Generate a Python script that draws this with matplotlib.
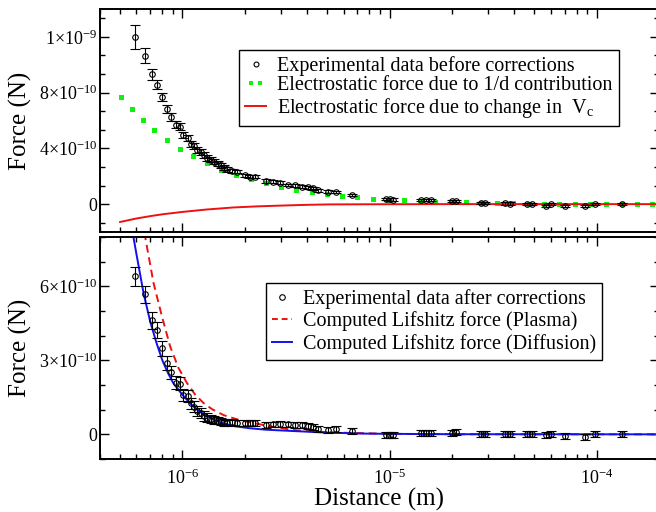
import matplotlib
matplotlib.use("Agg")
import matplotlib.pyplot as plt
from matplotlib.lines import Line2D
from matplotlib.legend_handler import HandlerLine2D
from matplotlib.ticker import FixedLocator, FixedFormatter, MultipleLocator, NullFormatter

plt.rcParams["font.family"] = ["Liberation Serif", "DejaVu Serif"]
plt.rcParams["mathtext.fontset"] = "custom"
plt.rcParams["mathtext.rm"] = "Liberation Serif"
plt.rcParams["mathtext.it"] = "Liberation Serif:italic"
plt.rcParams["mathtext.bf"] = "Liberation Serif:bold"
plt.rcParams["mathtext.default"] = "regular"

# distance of the measured points (m), same for both panels
distance = [5.93e-7, 6.63e-7, 7.14e-7, 7.55e-7, 8.01e-7, 8.45e-7, 8.85e-7, 9.29e-7,
            9.72e-7, 1.01e-6, 1.06e-6, 1.10e-6, 1.14e-6, 1.18e-6, 1.23e-6, 1.27e-6,
            1.32e-6, 1.37e-6, 1.42e-6, 1.48e-6, 1.53e-6, 1.59e-6, 1.65e-6, 1.73e-6,
            1.84e-6, 2.00e-6, 2.12e-6, 2.24e-6, 2.52e-6, 2.74e-6, 2.96e-6, 3.24e-6,
            3.49e-6, 3.76e-6, 4.05e-6, 4.28e-6, 4.52e-6, 5.06e-6, 5.54e-6, 6.60e-6,
            9.60e-6, 1.00e-5, 1.04e-5, 1.42e-5, 1.50e-5, 1.58e-5, 2.00e-5, 2.10e-5,
            2.75e-5, 2.90e-5, 3.60e-5, 3.80e-5, 4.60e-5, 4.90e-5, 5.70e-5, 6.00e-5,
            7.00e-5, 8.80e-5, 9.80e-5, 1.33e-4]

# top panel: data before corrections (N)
force_before = [1.196e-9, 1.063e-9, 9.31e-10, 8.58e-10, 7.67e-10, 6.85e-10, 6.24e-10, 5.71e-10,
                5.55e-10, 4.95e-10, 4.72e-10, 4.30e-10, 4.15e-10, 3.90e-10, 3.74e-10, 3.52e-10,
                3.32e-10, 3.18e-10, 3.05e-10, 2.90e-10, 2.78e-10, 2.62e-10, 2.50e-10, 2.40e-10,
                2.34e-10, 2.07e-10, 1.98e-10, 1.98e-10, 1.66e-10, 1.59e-10, 1.54e-10, 1.37e-10,
                1.35e-10, 1.25e-10, 1.21e-10, 1.13e-10, 0.99e-10, 0.89e-10, 0.86e-10, 0.65e-10,
                0.36e-10, 0.34e-10, 0.33e-10, 0.30e-10, 0.28e-10, 0.28e-10, 0.22e-10, 0.22e-10,
                0.10e-10, 0.10e-10, 0.05e-10, 0.04e-10, 0.02e-10, 0.02e-10, -0.12e-10, 0.0,
                -0.12e-10, -0.14e-10, 0.0, 0.0]
err_before = [8.6e-11, 5.4e-11, 4.1e-11, 3.5e-11, 2.9e-11, 2.9e-11, 3.0e-11, 2.6e-11,
              2.4e-11, 2.2e-11, 2.2e-11, 2.1e-11, 2.0e-11, 2.0e-11, 2.0e-11, 1.9e-11,
              1.9e-11, 1.8e-11, 1.8e-11, 1.7e-11, 1.7e-11, 1.6e-11, 1.6e-11, 1.5e-11,
              1.4e-11, 1.2e-11, 1.2e-11, 1.2e-11, 1.1e-11, 1.1e-11, 1.0e-11, 1.0e-11,
              1.0e-11, 1.0e-11, 1.0e-11, 0.9e-11, 0.9e-11, 0.9e-11, 0.9e-11, 0.9e-11,
              0.8e-11, 0.8e-11, 0.8e-11, 0.8e-11, 0.8e-11, 0.8e-11, 0.8e-11, 0.8e-11,
              0.8e-11, 0.8e-11, 0.8e-11, 0.8e-11, 0.8e-11, 0.8e-11, 0.8e-11, 0.8e-11,
              0.8e-11, 0.8e-11, 0.8e-11, 0.8e-11]

# 1/d electrostatic contribution (green squares)
d_inv = [5.07e-7, 5.70e-7, 6.44e-7, 7.30e-7, 8.41e-7, 9.75e-7, 1.12e-6, 1.31e-6,
         1.54e-6, 1.815e-6, 2.14e-6, 2.52e-6, 2.98e-6, 3.53e-6, 4.20e-6, 4.97e-6,
         5.90e-6, 7.00e-6, 8.33e-6, 9.95e-6, 1.18e-5, 1.40e-5, 1.66e-5, 1.97e-5,
         2.35e-5, 2.80e-5, 3.31e-5, 3.94e-5, 4.69e-5, 5.60e-5, 6.61e-5, 7.89e-5,
         9.33e-5, 1.11e-4, 1.32e-4, 1.56e-4, 1.85e-4]
f_inv = [7.69e-10, 6.85e-10, 6.03e-10, 5.30e-10, 4.63e-10, 3.98e-10, 3.42e-10, 2.94e-10,
         2.48e-10, 2.12e-10, 1.78e-10, 1.52e-10, 1.25e-10, 1.03e-10, 0.87e-10, 0.72e-10,
         0.60e-10, 0.48e-10, 0.38e-10, 0.31e-10, 0.27e-10, 0.24e-10, 0.17e-10, 0.17e-10,
         0.12e-10, 0.10e-10, 0.07e-10, 0.05e-10, 0.02e-10, 0.02e-10, 0.0, 0.0,
         0.0, 0.0, 0.0, 0.0, 0.0]

# electrostatic force from change in Vc (red line)
d_vc = [5.0e-7, 6.0e-7, 7.0e-7, 8.0e-7, 9.0e-7, 1.0e-6, 1.3e-6, 1.76e-6, 2.3e-6,
        3.07e-6, 4.0e-6, 5.15e-6, 8.0e-6, 2.0e-5, 2.0e-4]
f_vc = [-1.28e-10, -1.03e-10, -0.86e-10, -0.73e-10, -0.64e-10, -0.56e-10, -0.39e-10,
        -0.24e-10, -0.16e-10, -0.10e-10, -0.05e-10, -0.02e-10, -0.01e-10, 0.0, 0.0]

# bottom panel: data after corrections (N)
force_after = [6.41e-10, 5.67e-10, 4.63e-10, 4.22e-10, 3.48e-10, 2.90e-10, 2.52e-10, 2.09e-10,
               2.06e-10, 1.59e-10, 1.55e-10, 1.26e-10, 1.12e-10, 0.94e-10, 0.85e-10, 0.74e-10,
               0.67e-10, 0.63e-10, 0.58e-10, 0.55e-10, 0.51e-10, 0.49e-10, 0.46e-10, 0.50e-10,
               0.45e-10, 0.47e-10, 0.47e-10, 0.47e-10, 0.36e-10, 0.40e-10, 0.42e-10, 0.40e-10,
               0.39e-10, 0.36e-10, 0.34e-10, 0.30e-10, 0.23e-10, 0.17e-10, 0.23e-10, 0.13e-10,
               -0.03e-10, -0.03e-10, -0.02e-10, 0.07e-10, 0.07e-10, 0.07e-10, 0.07e-10, 0.08e-10,
               0.01e-10, 0.01e-10, 0.0, 0.0, 0.0, 0.0, -0.04e-10, 0.01e-10,
               -0.07e-10, -0.09e-10, 0.0, 0.0]
err_after = [3.8e-11, 3.4e-11, 3.4e-11, 3.2e-11, 2.9e-11, 2.8e-11, 2.7e-11, 2.6e-11,
             2.6e-11, 2.5e-11, 2.4e-11, 2.3e-11, 2.2e-11, 2.1e-11, 2.0e-11, 1.9e-11,
             1.8e-11, 1.7e-11, 1.6e-11, 1.5e-11, 1.5e-11, 1.4e-11, 1.4e-11, 1.3e-11,
             1.3e-11, 1.2e-11, 1.2e-11, 1.2e-11, 1.2e-11, 1.2e-11, 1.2e-11, 1.2e-11,
             1.2e-11, 1.2e-11, 1.2e-11, 1.2e-11, 1.2e-11, 1.2e-11, 1.2e-11, 1.2e-11,
             1.2e-11, 1.2e-11, 1.2e-11, 1.2e-11, 1.2e-11, 1.2e-11, 1.2e-11, 1.2e-11,
             1.2e-11, 1.2e-11, 1.2e-11, 1.2e-11, 1.2e-11, 1.2e-11, 1.2e-11, 1.2e-11,
             1.2e-11, 1.2e-11, 1.2e-11, 1.2e-11]

# computed Lifshitz force, plasma model (red dashed)
d_plasma = [6.3e-7, 6.61e-7, 7.25e-7, 7.96e-7, 8.72e-7, 9.56e-7, 1.05e-6, 1.15e-6,
            1.26e-6, 1.39e-6, 1.58e-6, 1.83e-6, 2.08e-6, 2.74e-6, 3.56e-6, 5.0e-6,
            1.0e-5, 2.0e-5, 2.0e-4]
f_plasma = [9.2e-10, 8.0e-10, 6.14e-10, 4.79e-10, 3.57e-10, 2.70e-10, 2.09e-10, 1.62e-10,
            1.28e-10, 1.02e-10, 0.78e-10, 0.61e-10, 0.50e-10, 0.30e-10, 0.16e-10, 0.08e-10,
            0.02e-10, 0.005e-10, 0.0]

# computed Lifshitz force, diffusion model (blue)
d_diff = [5.6e-7, 5.8e-7, 6.0e-7, 6.5e-7, 7.0e-7, 7.5e-7, 8.0e-7, 8.5e-7, 9.0e-7,
          1.0e-6, 1.1e-6, 1.2e-6, 1.3e-6, 1.5e-6, 1.75e-6, 2.1e-6, 2.5e-6, 3.5e-6,
          5.0e-6, 7.5e-6, 1.0e-5, 2.0e-5, 2.0e-4]
f_diff = [8.9e-10, 8.0e-10, 7.3e-10, 5.7e-10, 4.55e-10, 3.7e-10, 3.0e-10, 2.5e-10, 2.1e-10,
          1.6e-10, 1.22e-10, 0.95e-10, 0.76e-10, 0.50e-10, 0.34e-10, 0.25e-10, 0.19e-10, 0.13e-10,
          0.07e-10, 0.03e-10, 0.02e-10, 0.005e-10, 0.0]

top_ticks = [0, 4e-10, 8e-10, 1.2e-9]
top_labels = ["0", "4×10$^{-10}$", "8×10$^{-10}$", "1×10$^{-9}$"]
bot_ticks = [0, 3e-10, 6e-10]
bot_labels = ["0", "3×10$^{-10}$", "6×10$^{-10}$"]

W, H = 656, 512
fig = plt.figure(figsize=(W / 100, H / 100), dpi=100)
ax1 = fig.add_axes([100 / W, 1 - 232 / H, 559 / W, 223 / H])
ax2 = fig.add_axes([100 / W, 1 - 459 / H, 559 / W, 222 / H])

for ax in (ax1, ax2):
    ax.set_xscale("log")
    ax.set_xlim(4e-7, 2e-4)
    for s in ax.spines.values():
        s.set_linewidth(1.4)
    ax.tick_params(which="both", direction="in", top=True, right=True, width=1.0)
    ax.tick_params(which="major", length=6.5, labelsize=13)
    ax.tick_params(which="minor", length=3.5)
    ax.tick_params(axis="y", which="major", pad=2)
    ax.tick_params(axis="x", which="major", pad=7)
    ax.set_ylabel("Force (N)", fontsize=18)
    ax.yaxis.set_label_coords(-0.122, 0.5)

# top panel
ax1.errorbar(distance, force_before, yerr=err_before, fmt="o", ms=4, mfc="none",
             mec="black", mew=0.8, ecolor="black", elinewidth=0.8, capsize=3.5,
             capthick=0.8, zorder=3)
ax1.plot(d_inv, f_inv, "s", color="#11f011", ms=3.6, mew=0, zorder=2)
ax1.plot(d_vc, f_vc, color="#ee1111", lw=1.4, zorder=2)
ax1.set_ylim(-2e-10, 1.4e-9)
ax1.yaxis.set_major_locator(FixedLocator(top_ticks))
ax1.yaxis.set_major_formatter(FixedFormatter(top_labels))
ax1.yaxis.set_minor_locator(MultipleLocator(4e-10 / 3))
ax1.xaxis.set_major_formatter(NullFormatter())
ax1.xaxis.set_minor_formatter(NullFormatter())

h_exp = Line2D([], [], marker="o", ms=3.5, mfc="none", mec="black", mew=0.8, ls="none")
h_inv = Line2D([], [], marker="s", ms=3.4, color="#11f011", mew=0, ls="none")
h_vc = Line2D([], [], color="#ee1111", lw=1.4)
leg1 = ax1.legend([h_exp, h_inv, h_vc],
                  ["Experimental data before corrections",
                   "Electrostatic force due to 1/d contribution",
                   r"Electrostatic force due to change in  V$_{\rm c}$"],
                  loc="upper left", bbox_to_anchor=(239 / W, 1 - 50 / H),
                  bbox_transform=fig.transFigure, borderaxespad=0, fancybox=False,
                  edgecolor="black", framealpha=1, fontsize=14.5, handlelength=1.05,
                  handletextpad=0.55, labelspacing=0.02, borderpad=0.3,
                  handler_map={h_inv: HandlerLine2D(numpoints=2)})
leg1.get_frame().set_linewidth(1.0)

# bottom panel
ax2.errorbar(distance, force_after, yerr=err_after, fmt="o", ms=4, mfc="none",
             mec="black", mew=0.8, ecolor="black", elinewidth=0.8, capsize=3.5,
             capthick=0.8, zorder=3)
ax2.plot(d_plasma, f_plasma, color="#ee1111", lw=1.4, ls=(0, (4, 2.5)), zorder=2)
ax2.plot(d_diff, f_diff, color="#1111ee", lw=1.4, zorder=2)
ax2.set_ylim(-1e-10, 8e-10)
ax2.yaxis.set_major_locator(FixedLocator(bot_ticks))
ax2.yaxis.set_major_formatter(FixedFormatter(bot_labels))
ax2.yaxis.set_minor_locator(MultipleLocator(1e-10))
ax2.set_xlabel("Distance (m)", fontsize=18)
ax2.xaxis.set_label_coords(0.5, -0.13)

h_exp2 = Line2D([], [], marker="o", ms=4, mfc="none", mec="black", mew=0.8, ls="none")
h_pl = Line2D([], [], color="#ee1111", lw=1.4, ls=(0, (3, 2)))
h_df = Line2D([], [], color="#1111ee", lw=1.4)
leg2 = ax2.legend([h_exp2, h_pl, h_df],
                  ["Experimental data after corrections",
                   "Computed Lifshitz force (Plasma)",
                   "Computed Lifshitz force (Diffusion)"],
                  loc="upper left", bbox_to_anchor=(266 / W, 1 - 283 / H),
                  bbox_transform=fig.transFigure, borderaxespad=0, fancybox=False,
                  edgecolor="black", framealpha=1, fontsize=14.5, handlelength=1.0,
                  handletextpad=0.55, labelspacing=0.12, borderpad=0.3)
leg2.get_frame().set_linewidth(1.0)

fig.savefig("out.png", dpi=100)
